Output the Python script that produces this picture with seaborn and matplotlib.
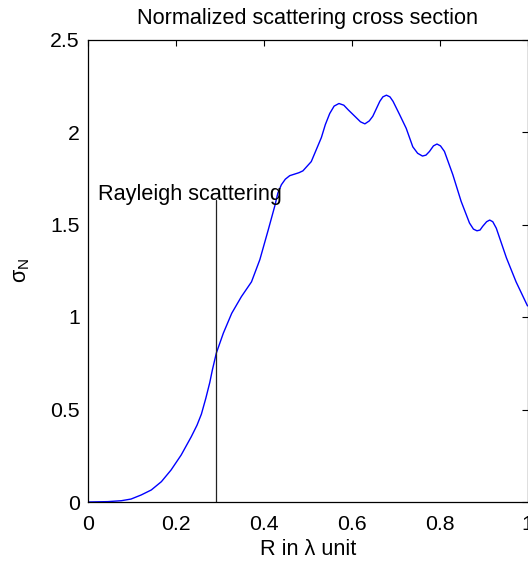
import matplotlib
matplotlib.use("Agg")
import matplotlib.pyplot as plt
import seaborn as sns
import pandas as pd

# Data
r_values = [0.0, 0.045, 0.076, 0.098, 0.121, 0.144, 0.167, 0.189, 0.212, 0.235,
            0.248, 0.258, 0.268, 0.277, 0.283, 0.292, 0.308, 0.327, 0.349, 0.372,
            0.391, 0.41, 0.425, 0.432, 0.44, 0.449, 0.459, 0.48, 0.489, 0.508,
            0.531, 0.54, 0.55, 0.56, 0.571, 0.582, 0.592, 0.611, 0.62, 0.63,
            0.64, 0.648, 0.664, 0.671, 0.679, 0.687, 0.694, 0.709, 0.724, 0.739,
            0.75, 0.761, 0.769, 0.777, 0.786, 0.794, 0.802, 0.811, 0.830, 0.849,
            0.868, 0.877, 0.885, 0.892, 0.898, 0.907, 0.914, 0.921, 0.929, 0.952,
            0.974, 0.997, 1.0]
sigma_values = [0.0, 0.002, 0.007, 0.016, 0.038, 0.065, 0.11, 0.173, 0.254, 0.353,
                0.415, 0.475, 0.56, 0.645, 0.714, 0.805, 0.913, 1.02, 1.11, 1.19,
                1.31, 1.47, 1.60, 1.67, 1.715, 1.745, 1.764, 1.78, 1.79, 1.84,
                1.97, 2.04, 2.10, 2.14, 2.154, 2.145, 2.12, 2.076, 2.055, 2.044,
                2.06, 2.085, 2.166, 2.19, 2.199, 2.19, 2.166, 2.094, 2.02, 1.92,
                1.885, 1.87, 1.875, 1.895, 1.925, 1.935, 1.925, 1.895, 1.77, 1.625,
                1.508, 1.475, 1.466, 1.47, 1.49, 1.515, 1.524, 1.515, 1.48, 1.32,
                1.19, 1.075, 1.06]
rayleigh_x = 0.291
rayleigh_top = 1.634
rayleigh_label = "Rayleigh scattering"
x_ticks = [0, 0.2, 0.4, 0.6, 0.8, 1.0]
x_tick_labels = ["0", "0.2", "0.4", "0.6", "0.8", "1"]
y_ticks = [0, 0.5, 1.0, 1.5, 2.0, 2.5]
y_tick_labels = ["0", "0.5", "1", "1.5", "2", "2.5"]

sns.set_theme(style="white")
plt.rcParams["font.family"] = ["Liberation Sans", "DejaVu Sans"]
plt.rcParams["mathtext.fontset"] = "custom"
plt.rcParams["mathtext.rm"] = "Liberation Sans"
plt.rcParams["mathtext.it"] = "Liberation Sans"
plt.rcParams["mathtext.default"] = "regular"

FS = 15.6
TFS = 15.3
fig = plt.figure(figsize=(5.28, 5.61), dpi=100)
ax = fig.add_axes([88 / 528, 1 - 502 / 561, 439.5 / 528, 462.5 / 561])

df = pd.DataFrame({"R": r_values, "sigma": sigma_values})
sns.lineplot(data=df, x="R", y="sigma", ax=ax, color=(0, 0, 1), lw=1.0,
             estimator=None, sort=False)
ax.plot([rayleigh_x, rayleigh_x], [0, rayleigh_top], color="#222222", lw=0.9)
ax.text(0.023, rayleigh_top, rayleigh_label, fontsize=FS, ha="left", va="baseline",
        color="black")

ax.set_xlim(0, 1)
ax.set_ylim(0, 2.5)
ax.set_xticks(x_ticks)
ax.set_xticklabels(x_tick_labels)
ax.set_yticks(y_ticks)
ax.set_yticklabels(y_tick_labels)
ax.tick_params(axis="both", direction="in", length=4, width=0.8, color="black",
               labelsize=TFS, labelcolor="black", top=True, right=True)
ax.tick_params(axis="x", pad=9)
ax.tick_params(axis="y", pad=6)
for s in ax.spines.values():
    s.set_visible(True)
    s.set_color("black")
    s.set_linewidth(0.9)

ax.set_xlabel("R in λ unit", fontsize=FS, color="black", labelpad=4)
ax.set_ylabel(r"$\sigma_N$", fontsize=FS, color="black", labelpad=13)
ax.set_title("Normalized scattering cross section", fontsize=FS, color="black", pad=11.5)
ax.grid(False)

fig.savefig("out.png", dpi=100)
